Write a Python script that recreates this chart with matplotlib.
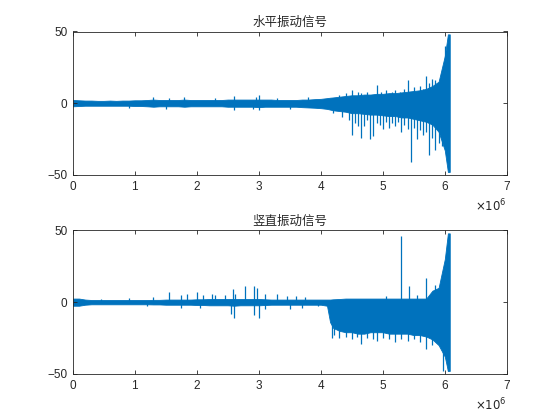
import numpy as np
import matplotlib
matplotlib.use('Agg')
import matplotlib.pyplot as plt

# sample index in millions (envelope grid shared by both panels)
x_m = [0.0, 0.1, 0.2, 0.3, 0.4, 0.5, 0.6, 0.7, 0.8, 0.9, 1.0,
       1.1, 1.2, 1.3, 1.4, 1.5, 1.6, 1.7, 1.8, 1.9, 2.0,
       2.1, 2.2, 2.3, 2.4, 2.5, 2.6, 2.7, 2.8, 2.9, 3.0,
       3.1, 3.2, 3.3, 3.4, 3.5, 3.6, 3.7, 3.8, 3.9, 4.0,
       4.1, 4.15, 4.2, 4.3, 4.4, 4.5, 4.6, 4.7, 4.8, 4.9, 5.0,
       5.1, 5.2, 5.3, 5.4, 5.5, 5.6, 5.7, 5.8, 5.9, 6.0, 6.05, 6.08]

# horizontal signal - dense band envelope
h_upper = [2.2, 2, 1.8, 1.8, 1.6, 1.6, 1.8, 1.6, 1.8, 1.8, 2,
           2, 2.2, 2.5, 2.2, 2.2, 2.2, 2.2, 2.5, 2.2, 2.2,
           2.2, 2.2, 2.2, 2.2, 2.5, 2.5, 2.5, 2.5, 2.5, 2.5,
           2.5, 2.5, 2.2, 2.2, 2.2, 2.2, 2.5, 2.5, 2.8, 3,
           3.5, 3.8, 4, 4.5, 5, 5.5, 5.5, 6, 6, 6.5, 6.5,
           7, 7, 7.5, 8, 8.5, 9, 10, 12, 15, 33, 48, 48]
h_lower = [-2.2, -2, -1.8, -1.8, -1.8, -1.8, -1.8, -1.8, -1.8, -1.8, -2,
           -2, -2.2, -2.5, -2.2, -2.2, -2.2, -2.2, -2.5, -2.2, -2.2,
           -2.2, -2.2, -2.2, -2.2, -2.5, -2.5, -2.5, -2.5, -2.5, -2.8,
           -2.5, -2.5, -2.5, -2.5, -2.5, -2.5, -2.8, -3, -3.2, -3.5,
           -4, -4.5, -5, -5.5, -6, -7, -7, -7.5, -8, -8, -8.5,
           -9, -9, -10, -10, -11, -12, -13, -15, -20, -33, -48, -48]
# horizontal signal - isolated spikes
h_spike_x = [1.3, 1.55, 1.8, 2.3, 2.6, 2.95, 3.0, 3.3, 3.8, 4.3, 4.4, 4.5, 4.6,
             4.65, 4.75, 4.9, 4.97, 5.05, 5.15, 5.2, 5.28, 5.35, 5.4, 5.5, 5.6,
             5.65, 5.7, 5.75, 5.8, 5.85, 5.95, 6.0,
             0.9, 1.5, 2.6, 2.9, 3.0, 3.5, 4.2, 4.35, 4.45, 4.5, 4.55, 4.6, 4.65,
             4.7, 4.75, 4.8, 4.85, 4.9, 4.95, 5.0, 5.05, 5.1, 5.15, 5.2, 5.25,
             5.3, 5.35, 5.4, 5.45, 5.5, 5.55, 5.6, 5.65, 5.7, 5.75, 5.8, 5.85,
             5.9, 5.95]
h_spike_y = [4, 3.5, 4.5, 3.5, 5, 4.5, 6, 3.5, 4, 6, 7, 9, 8,
             7, 8, 13, 8, 9, 8, 9, 8, 10, 16, 11, 12,
             10, 19, 14, 17, 16, 22, 40,
             -3.5, -4, -5, -4, -5, -4, -7, -10, -12, -22, -14, -16, -24,
             -16, -12, -25, -23, -14, -15, -18, -13, -17, -14, -16, -13,
             -20, -15, -18, -41, -17, -25, -19, -22, -20, -36, -24, -33,
             -28, -30]

# vertical signal - dense band envelope
v_upper = [2.5, 2.5, 1.8, 1.5, 1.5, 1.5, 1.5, 1.5, 1.5, 1.5, 1.5,
           1.5, 1.5, 1.6, 1.6, 1.8, 1.8, 1.8, 1.8, 1.8, 2,
           2, 2.2, 2.2, 2.2, 2.2, 2.2, 2.2, 2.2, 2.2, 2.2,
           2, 1.8, 1.8, 1.8, 1.8, 1.8, 1.8, 1.8, 1.8, 1.8,
           1.8, 1.8, 2, 2.2, 2.5, 2.5, 2.5, 2.5, 2.5, 2.5, 2.5,
           2.5, 2.5, 2.5, 2.5, 2.5, 2.5, 2.5, 8, 10, 30, 48, 48]
v_lower = [-2.5, -2.5, -1.8, -1.5, -1.5, -1.5, -1.5, -1.5, -1.5, -1.5, -1.5,
           -1.5, -1.5, -1.6, -1.6, -1.8, -1.8, -1.8, -1.8, -1.8, -2,
           -2, -2.2, -2.2, -2.2, -2.2, -2.5, -2.2, -2.2, -2.2, -2.2,
           -2, -1.8, -1.8, -1.8, -1.8, -1.8, -1.8, -1.8, -1.8, -1.8,
           -2.5, -14, -18, -20, -21, -21, -22, -22, -21, -21, -21,
           -22, -22, -22, -22, -23, -23, -24, -26, -30, -38, -48, -48]
# vertical signal - isolated spikes
v_spike_x = [0.45, 0.9, 1.3, 1.55, 1.75, 1.85, 2.0, 2.1, 2.25, 2.3, 2.45, 2.58,
             2.62, 2.78, 2.92, 2.97, 3.1, 3.3, 3.45, 3.6, 3.75, 5.05, 5.3, 5.43,
             5.55, 5.7, 5.85,
             1.2, 1.75, 2.05, 2.55, 2.6, 2.92, 3.0, 3.1, 3.5, 3.7, 3.95, 4.18,
             4.22, 4.3, 4.4, 4.5, 4.58, 4.65, 4.75, 4.85, 4.9, 5.0, 5.1, 5.2,
             5.3, 5.4, 5.5, 5.6, 5.7, 5.8, 5.97, 6.05]
v_spike_y = [2.5, 3, 3.5, 7, 5, 6, 7, 5, 6, 5, 5, 9,
             6, 11, 11, 10, 6, 6, 4, 4, 3.5, 4, 46, 11,
             5, 17, 12,
             -3, -4, -4, -8, -11, -9, -11, -5, -5, -4, -3, -25,
             -23, -25, -24, -26, -24, -29, -25, -26, -27, -25, -26, -28,
             -26, -27, -26, -28, -33, -30, -48, -48]

titles = ['水平振动信号', '竖直振动信号']
blue = '#0072BD'
ink = '#262626'

fig = plt.figure(figsize=(5.6, 4.2), dpi=100)
panels = [(h_upper, h_lower, h_spike_x, h_spike_y),
          (v_upper, v_lower, v_spike_x, v_spike_y)]
positions = [[0.13, 0.5838, 0.775, 0.3412], [0.13, 0.11, 0.775, 0.3412]]

for pos, (up, lo, sx, sy), title in zip(positions, panels, titles):
    ax = fig.add_axes(pos)
    x = np.array(x_m) * 1e6
    ax.fill_between(x, lo, up, color=blue, linewidth=0.6)
    ax.vlines(np.array(sx) * 1e6, 0, sy, color=blue, linewidth=0.9)
    ax.set_xlim(0, 7e6)
    ax.set_ylim(-50, 50)
    ax.set_xticks(np.arange(0, 8) * 1e6)
    ax.set_yticks([-50, 0, 50])
    ax.ticklabel_format(axis='x', style='sci', scilimits=(0, 0), useMathText=True)
    ax.tick_params(direction='in', top=True, right=True, length=3, width=0.6,
                   labelsize=8.5, colors=ink, pad=4)
    for lab in ax.get_xticklabels() + ax.get_yticklabels():
        lab.set_family('Liberation Sans')
    ax.xaxis.get_offset_text().set_fontsize(8.5)
    ax.xaxis.get_offset_text().set_color(ink)
    for s in ax.spines.values():
        s.set_linewidth(0.6)
        s.set_color(ink)
    ax.set_title(title, fontsize=9, color=ink, pad=4,
                 family=['Noto Sans CJK SC', 'DejaVu Sans'])

fig.savefig('out.png', dpi=100, facecolor='white')
